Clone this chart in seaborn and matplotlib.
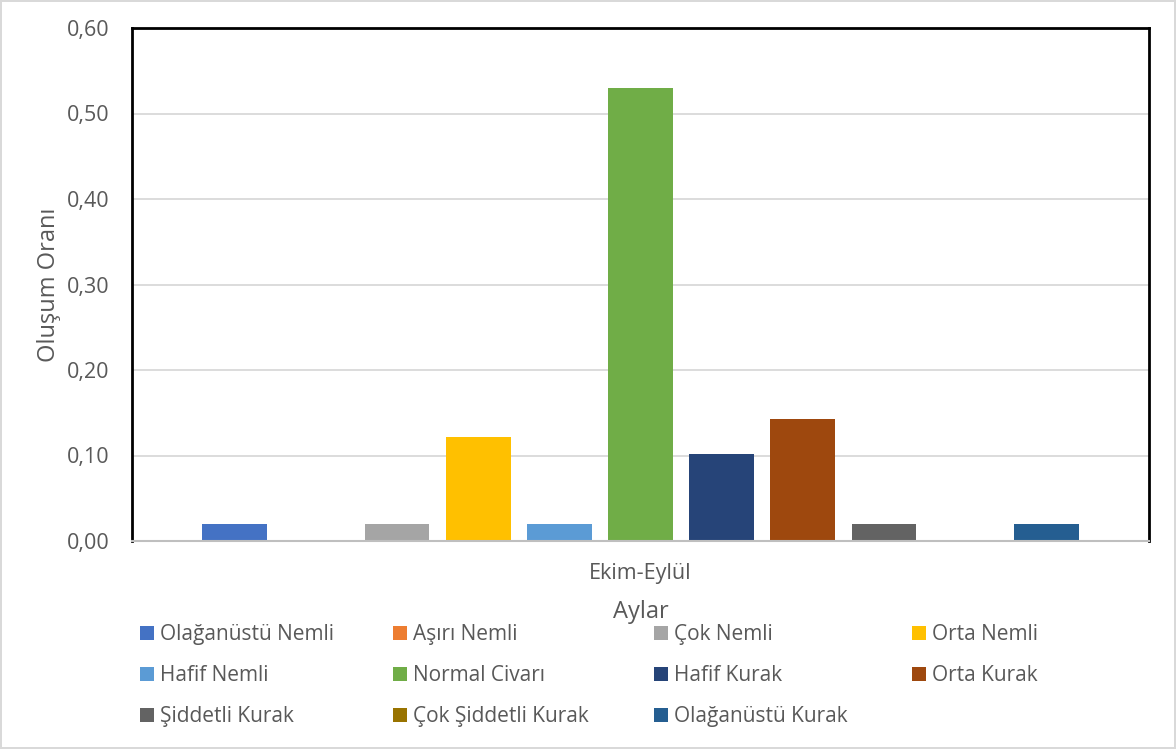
import matplotlib
matplotlib.use("Agg")
import matplotlib.pyplot as plt
from matplotlib.patches import Patch
from matplotlib.ticker import FixedLocator, FuncFormatter
import seaborn as sns
import pandas as pd

categories = ["Olağanüstü Nemli", "Aşırı Nemli", "Çok Nemli", "Orta Nemli",
              "Hafif Nemli", "Normal Civarı", "Hafif Kurak", "Orta Kurak",
              "Şiddetli Kurak", "Çok Şiddetli Kurak", "Olağanüstü Kurak"]
values = [0.02, 0.0, 0.02, 0.122, 0.02, 0.53, 0.102, 0.143, 0.02, 0.0, 0.02]
period = ["Ekim-Eylül"] * len(categories)
colors = ["#4472C4", "#ED7D31", "#A5A5A5", "#FFC000", "#5B9BD5", "#70AD47",
          "#264478", "#9E480E", "#636363", "#997300", "#255E91"]
yticks = [0.0, 0.1, 0.2, 0.3, 0.4, 0.5, 0.6]

df = pd.DataFrame({"Aylar": period, "Sınıf": categories, "Oran": values})

sns.set_theme(style="white")
plt.rcParams["font.family"] = ["Open Sans", "DejaVu Sans"]
TXT = "#595959"

fig = plt.figure(figsize=(11.76, 7.49), dpi=100)
fig.patch.set_facecolor("white")
fig.patch.set_edgecolor("#d9d9d9")
fig.patch.set_linewidth(1.5)
ax = fig.add_axes([132 / 1176, 1 - 541 / 749, (1149 - 132) / 1176, (541 - 28) / 749])

sns.barplot(data=df, x="Aylar", y="Oran", hue="Sınıf", hue_order=categories,
            palette=colors, width=0.878, gap=0.2, dodge=True, legend=False,
            saturation=1, ax=ax, errorbar=None, linewidth=0)

ax.set_xlim(-0.5, 0.5)
ax.set_ylim(0, 0.6)
ax.yaxis.set_major_locator(FixedLocator(yticks))
ax.yaxis.set_major_formatter(FuncFormatter(lambda v, p: f"{v:.2f}".replace(".", ",")))
ax.grid(axis="y", color="#d9d9d9", linewidth=1.3)
ax.set_axisbelow(True)
ax.tick_params(axis="both", length=0, colors=TXT, labelsize=15.5)
ax.tick_params(axis="y", pad=16)
ax.tick_params(axis="x", pad=16)
for s in ["left", "top", "right"]:
    ax.spines[s].set_color("black")
    ax.spines[s].set_linewidth(2)
ax.spines["bottom"].set_color("#bfbfbf")
ax.spines["bottom"].set_linewidth(1.5)

ax.set_ylabel("Oluşum Oranı", fontsize=17, color=TXT, labelpad=4)
ax.set_xlabel("Aylar", fontsize=17, color=TXT, labelpad=11)

# legend: 4 columns, row-major order
col_x = [140, 393, 654, 912]
ncol = 4
for c in range(ncol):
    idx = list(range(c, len(categories), ncol))
    handles = [Patch(facecolor=colors[i], edgecolor="none") for i in idx]
    labels = [categories[i] for i in idx]
    fig.legend(handles, labels, loc="upper left",
               bbox_to_anchor=(col_x[c] / 1176, 1 - 624 / 749),
               frameon=False, fontsize=15, labelcolor=TXT,
               handlelength=0.65, handleheight=0.65, handletextpad=0.3,
               labelspacing=0.96, borderpad=0, borderaxespad=0)

fig.savefig("out.png", dpi=100, facecolor=fig.get_facecolor(),
            edgecolor=fig.get_edgecolor())
